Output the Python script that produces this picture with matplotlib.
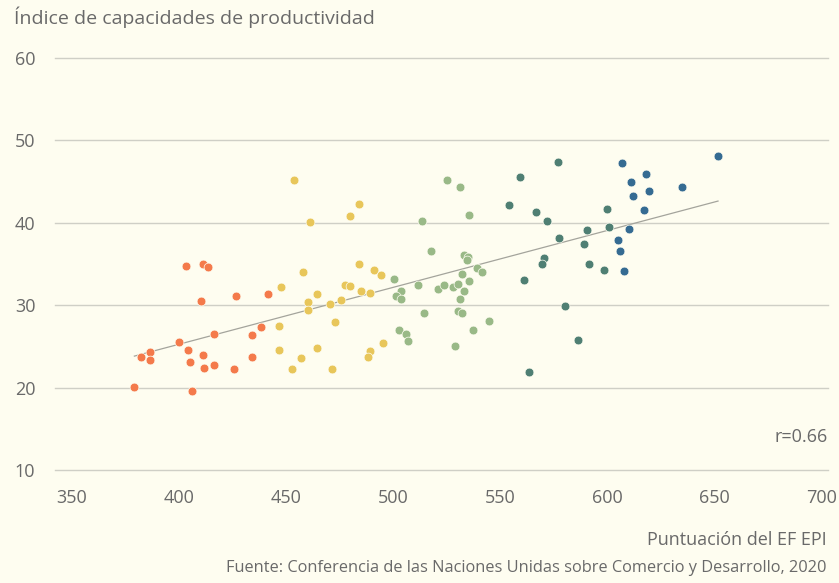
import numpy as np
import matplotlib
matplotlib.use("Agg")
import matplotlib.pyplot as plt

# EF EPI score (x) and productivity capacity index (y), grouped by colour band
orange_x = [403.3, 411.5, 413.5, 410.4, 426.9, 441.5, 416.6, 400.1, 404.3, 386.6, 382.4,
            386.6, 411.5, 405.1, 411.7, 416.6, 425.9, 434.3, 438.4, 434.3, 379.3, 406.3]
orange_y = [34.8, 35.0, 34.6, 30.5, 31.1, 31.4, 26.5, 25.5, 24.6, 24.3, 23.7,
            23.3, 24.0, 23.1, 22.4, 22.7, 22.2, 26.4, 27.3, 23.75, 20.1, 19.6]

yellow_x = [453.9, 461.2, 479.9, 484.1, 447.7, 458.1, 464.4, 460.2, 460.2, 470.4, 475.7,
            477.7, 479.9, 484.1, 491.2, 494.4, 485.0, 489.2, 446.8, 472.8, 446.8, 464.4,
            457.0, 453.0, 471.5, 489.2, 488.2, 495.4]
yellow_y = [45.2, 40.1, 40.8, 42.3, 32.2, 34.0, 31.4, 30.35, 29.4, 30.1, 30.6,
            32.5, 32.3, 35.0, 34.3, 33.7, 31.7, 31.5, 27.5, 28.0, 24.6, 24.8,
            23.6, 22.3, 22.3, 24.5, 23.7, 25.4]

green_x = [525.0, 531.1, 535.3, 513.6, 517.7, 533.1, 535.1, 534.3, 539.3, 541.5, 532.3,
           500.6, 511.6, 520.8, 523.9, 528.1, 530.3, 535.3, 533.2, 503.7, 501.4, 503.7,
           531.1, 530.1, 532.3, 514.6, 544.7, 537.4, 502.7, 505.9, 507.0, 529.0]
green_y = [45.2, 44.3, 40.9, 40.2, 36.6, 36.1, 35.9, 35.5, 34.5, 34.0, 33.8,
           33.2, 32.5, 32.0, 32.5, 32.2, 32.6, 32.9, 31.7, 31.7, 31.1, 30.8,
           30.7, 29.3, 29.1, 29.05, 28.1, 27.0, 27.0, 26.5, 25.7, 25.05]

teal_x = [576.7, 559.2, 554.0, 566.4, 571.6, 599.6, 590.3, 600.7, 577.5, 589.2, 570.5,
          569.5, 591.2, 598.5, 561.2, 580.0, 586.1, 563.2]
teal_y = [47.4, 45.6, 42.2, 41.3, 40.2, 41.7, 39.1, 39.5, 38.1, 37.4, 35.7,
          35.0, 35.0, 34.3, 33.1, 29.9, 25.8, 21.9]

blue_x = [606.9, 618.1, 611.0, 619.2, 612.0, 634.6, 617.2, 610.0, 604.8, 605.8, 607.8, 651.5]
blue_y = [47.3, 45.9, 44.9, 43.9, 43.3, 44.4, 41.6, 39.3, 37.9, 36.6, 34.2, 48.1]

groups = [
    (orange_x, orange_y, "#f47a4b"),
    (yellow_x, yellow_y, "#e8c65a"),
    (green_x, green_y, "#99b987"),
    (teal_x, teal_y, "#4f7f73"),
    (blue_x, blue_y, "#356b92"),
]

x_ticks = [350, 400, 450, 500, 550, 600, 650, 700]
y_ticks = [10, 20, 30, 40, 50, 60]
r_value = 0.66

bg = "#fefdf0"
text_col = "#696969"
plt.rcParams["font.family"] = ["Open Sans", "DejaVu Sans"]

fig = plt.figure(figsize=(8.39, 5.83), dpi=100, facecolor=bg)
ax = fig.add_axes([0.0656, 0.1938, 0.9213, 0.7067], facecolor=bg)

for gx, gy, c in groups:
    ax.scatter(gx, gy, s=40, color=c, edgecolors=bg, linewidths=0.5, zorder=3)

# linear fit over all points
all_x = np.concatenate([g[0] for g in groups])
all_y = np.concatenate([g[1] for g in groups])
slope, intercept = np.polyfit(all_x, all_y, 1)
fx = np.array([all_x.min(), all_x.max()])
ax.plot(fx, slope * fx + intercept, color="#a4a49c", lw=0.9, zorder=2)

ax.set_xlim(342.3, 702.8)
ax.set_ylim(10, 60)
ax.set_xticks(x_ticks)
ax.set_yticks(y_ticks)
ax.grid(axis="y", color="#cfcfc6", lw=1)
for gl in ax.get_ygridlines():
    gl.set_clip_on(False)
ax.set_axisbelow(True)
for s in ax.spines.values():
    s.set_visible(False)
ax.tick_params(axis="both", length=0, labelsize=13, colors=text_col)
ax.tick_params(axis="x", pad=14)
for lbl in ax.get_yticklabels():
    lbl.set_horizontalalignment("left")
ax.yaxis.set_tick_params(pad=29)

fig.text(14 / 839, 1 - 17 / 583, "Índice de capacidades de productividad",
         fontsize=14, color=text_col, ha="left", va="center")
ax.text(1.0, 0.08, f"r={r_value}", transform=ax.transAxes, fontsize=13,
        color=text_col, ha="right", va="center")
fig.text(827 / 839, 1 - 540 / 583, "Puntuación del EF EPI",
         fontsize=13, color=text_col, ha="right", va="center")
fig.text(827 / 839, 1 - 568 / 583,
         "Fuente: Conferencia de las Naciones Unidas sobre Comercio y Desarrollo, 2020",
         fontsize=11.8, color=text_col, ha="right", va="center")

fig.savefig("out.png", dpi=100, facecolor=bg)
